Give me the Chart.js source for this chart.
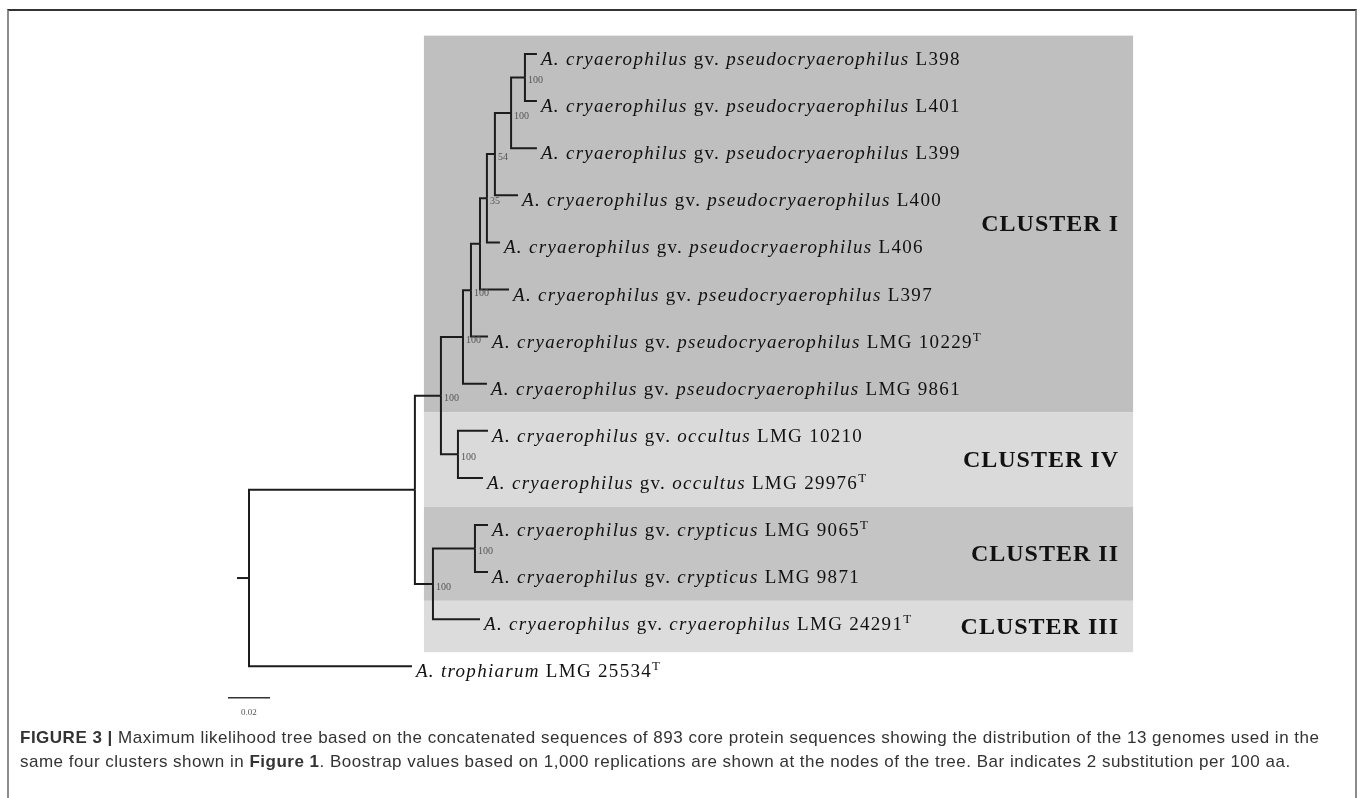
<!DOCTYPE html>
<html>
<head>
<meta charset="utf-8">
<title>Figure 3 - ML tree</title>
<script src="https://cdn.jsdelivr.net/npm/chart.js@4.4.0/dist/chart.umd.min.js"></script>
<style>
html, body { margin: 0; padding: 0; background: #fff; }
#wrap { position: relative; width: 1360px; height: 798px; overflow: hidden; }
#frame { position: absolute; left: 7px; top: 9px; width: 1350px; height: 800px; box-sizing: border-box;
  border-top: 2px solid #333; border-left: 2px solid #8c8c8c; border-right: 2px solid #8c8c8c; }
#tree { position: absolute; left: 0; top: 0; }
#caption { position: absolute; left: 20px; top: 726px; white-space: nowrap;
  font-family: "Liberation Sans", Arial, sans-serif; font-size: 17px; letter-spacing: 0.5px; line-height: 24px; color: #333; }
#caption b { font-weight: bold; }
</style>
</head>
<body>
<div id="wrap">
  <div id="frame"></div>
  <canvas id="tree" width="1360" height="798"></canvas>
  <div id="caption"><b>FIGURE 3 |</b> Maximum likelihood tree based on the concatenated sequences of 893 core protein sequences showing the distribution of the 13 genomes used in the<br>same four clusters shown in <b>Figure 1</b>. Boostrap values based on 1,000 replications are shown at the nodes of the tree. Bar indicates 2 substitution per 100 aa.</div>
</div>
<script>
// ---- data (branch depths in substitutions per site, from root) ----
const leafSpecies = ['A. cryaerophilus', 'A. cryaerophilus', 'A. cryaerophilus', 'A. cryaerophilus',
  'A. cryaerophilus', 'A. cryaerophilus', 'A. cryaerophilus', 'A. cryaerophilus',
  'A. cryaerophilus', 'A. cryaerophilus', 'A. cryaerophilus', 'A. cryaerophilus',
  'A. cryaerophilus', 'A. trophiarum'];
const leafGv = ['pseudocryaerophilus', 'pseudocryaerophilus', 'pseudocryaerophilus', 'pseudocryaerophilus',
  'pseudocryaerophilus', 'pseudocryaerophilus', 'pseudocryaerophilus', 'pseudocryaerophilus',
  'occultus', 'occultus', 'crypticus', 'crypticus', 'cryaerophilus', null];
const leafStrain = ['L398', 'L401', 'L399', 'L400', 'L406', 'L397', 'LMG 10229', 'LMG 9861',
  'LMG 10210', 'LMG 29976', 'LMG 9065', 'LMG 9871', 'LMG 24291', 'LMG 25534'];
const leafTypeStrain = [0, 0, 0, 0, 0, 0, 1, 0, 0, 1, 1, 0, 1, 1];
const leafDepth = [0.1371, 0.1371, 0.1371, 0.1281, 0.1195, 0.1238, 0.1138, 0.1133,
  0.1138, 0.1114, 0.1138, 0.1138, 0.1100, 0.0776];
const leafParent = [9, 9, 8, 7, 6, 5, 4, 3, 10, 10, 12, 12, 11, 0];

// internal nodes: root, A, B, C, D, E, F, G, H, I, occultus, II+III, II
const nodeDepth = [0, 0.0790, 0.0914, 0.1019, 0.1057, 0.1100, 0.1133, 0.1171, 0.1248, 0.1314, 0.0995, 0.0876, 0.1076];
const nodeParent = [-1, 0, 1, 2, 3, 4, 5, 6, 7, 8, 2, 1, 11];
const nodeSupport = [null, null, 100, 100, 100, null, 35, 54, 100, 100, 100, 100, 100];

const clusterNames = ['CLUSTER I', 'CLUSTER IV', 'CLUSTER II', 'CLUSTER III'];
const clusterFirst = [0, 8, 10, 12];
const clusterLast = [7, 9, 11, 12];
const clusterShade = ['#bfbfbf', '#dadada', '#c4c4c4', '#dcdcdc'];

const scaleBarLen = 0.02;
const scaleBarLabel = '0.02';

// ---- layout ----
const X_MIN = -0.11857, X_MAX = 0.52905;
const Y_MIN = -1.1465, Y_MAX = 15.796;
const bandLeft = 0.0833, bandRight = 0.4210, clusterLabelRight = 0.4138;
const rootStub = 0.0057;
const scaleBarX = -0.0100, scaleBarY = 13.67;
const lineColor = '#1c1c1c';

// y of every node = middle of its children
let children = nodeDepth.map(() => []);
nodeParent.forEach((p, i) => { if (p >= 0) children[p].push({ type: 'node', i: i }) });
leafParent.forEach((p, i) => { children[p].push({ type: 'leaf', i: i }) });
let nodeY = [];
function yOf(n) {
    if (n.type == 'leaf') return n.i;
    if (nodeY[n.i] != undefined) return nodeY[n.i];
    let ys = children[n.i].map(yOf);
    nodeY[n.i] = (Math.min(...ys) + Math.max(...ys)) / 2;
    return nodeY[n.i];
}
yOf({ type: 'node', i: 0 });

function edge(px, py, cx, cy) {
    return {
        data: [{ x: px, y: py }, { x: px, y: cy }, { x: cx, y: cy }],
        borderColor: lineColor, borderWidth: 2, pointRadius: 0, fill: false,
        tension: 0, borderJoinStyle: 'miter', borderCapStyle: 'butt'
    };
}
let datasets = [];
nodeParent.forEach((p, i) => {
    if (p >= 0) datasets.push(edge(nodeDepth[p], nodeY[p], nodeDepth[i], nodeY[i]));
});
leafParent.forEach((p, i) => {
    datasets.push(edge(nodeDepth[p], nodeY[p], leafDepth[i], i));
});
// root stub
datasets.push(edge(-rootStub, nodeY[0], 0, nodeY[0]));
// scale bar
datasets.push({
    data: [{ x: scaleBarX, y: scaleBarY }, { x: scaleBarX + scaleBarLen, y: scaleBarY }],
    borderColor: '#333', borderWidth: 1.5, pointRadius: 0, fill: false
});

function bandTop(c) { return clusterFirst[c] - 0.39 }
function bandBottom(c) { return c == clusterNames.length - 1 ? clusterLast[c] + 0.70 : clusterLast[c] + 0.61 }

const treePlugin = {
    id: 'treeDecor',
    beforeDatasetsDraw(chart) {
        const ctx = chart.ctx, xs = chart.scales.x, ys = chart.scales.y;
        ctx.save();
        for (let c = 0; c < clusterNames.length; c++) {
            let x0 = xs.getPixelForValue(bandLeft), x1 = xs.getPixelForValue(bandRight);
            let y0 = ys.getPixelForValue(bandTop(c)), y1 = ys.getPixelForValue(bandBottom(c));
            ctx.fillStyle = clusterShade[c];
            ctx.fillRect(x0, y0, x1 - x0, y1 - y0);
        }
        ctx.restore();
    },
    afterDatasetsDraw(chart) {
        const ctx = chart.ctx, xs = chart.scales.x, ys = chart.scales.y;
        ctx.save();
        ctx.fillStyle = '#111';
        ctx.textBaseline = 'alphabetic';
        // leaf labels
        ctx.letterSpacing = '1.3px';
        for (let i = 0; i < leafStrain.length; i++) {
            let x = xs.getPixelForValue(leafDepth[i]) + 4;
            let y = ys.getPixelForValue(i) + 11;
            let parts = [['italic', leafSpecies[i]]];
            if (leafGv[i]) {
                parts.push(['normal', ' gv. ']);
                parts.push(['italic', leafGv[i]]);
            }
            parts.push(['normal', ' ' + leafStrain[i]]);
            parts.forEach(p => {
                ctx.font = p[0] + ' 19px "Liberation Serif", "Times New Roman", serif';
                ctx.fillText(p[1], x, y);
                x += ctx.measureText(p[1]).width;
            });
            if (leafTypeStrain[i]) {
                ctx.font = '13px "Liberation Serif", serif';
                ctx.fillText('T', x, y - 7);
            }
        }
        ctx.letterSpacing = '0px';
        // bootstrap values
        ctx.fillStyle = '#555';
        ctx.font = '10px "Liberation Serif", serif';
        ctx.textBaseline = 'middle';
        for (let n = 0; n < nodeSupport.length; n++) {
            if (nodeSupport[n] == null) continue;
            ctx.fillText(String(nodeSupport[n]), xs.getPixelForValue(nodeDepth[n]) + 3, ys.getPixelForValue(nodeY[n]) + 3);
        }
        // cluster names
        ctx.fillStyle = '#111';
        ctx.font = 'bold 24px "Liberation Serif", "Times New Roman", serif';
        ctx.letterSpacing = '1px';
        ctx.textAlign = 'right';
        for (let c = 0; c < clusterNames.length; c++) {
            ctx.fillText(clusterNames[c], xs.getPixelForValue(clusterLabelRight) + 1, ys.getPixelForValue((bandTop(c) + bandBottom(c)) / 2) + 1);
        }
        ctx.letterSpacing = '0px';
        // scale bar label
        ctx.textAlign = 'center';
        ctx.fillStyle = '#555';
        ctx.font = '9px "Liberation Serif", serif';
        ctx.fillText(scaleBarLabel, xs.getPixelForValue(scaleBarX + scaleBarLen / 2), ys.getPixelForValue(scaleBarY) + 15);
        ctx.restore();
    }
};

new Chart(document.getElementById('tree'), {
    type: 'line',
    data: { datasets: datasets },
    options: {
        responsive: false,
        animation: false,
        events: [],
        layout: { padding: 0, autoPadding: false },
        plugins: { legend: { display: false }, tooltip: { enabled: false } },
        scales: {
            x: { type: 'linear', min: X_MIN, max: X_MAX, display: false },
            y: { type: 'linear', min: Y_MIN, max: Y_MAX, reverse: true, display: false }
        }
    },
    plugins: [treePlugin]
});
</script>
</body>
</html>
